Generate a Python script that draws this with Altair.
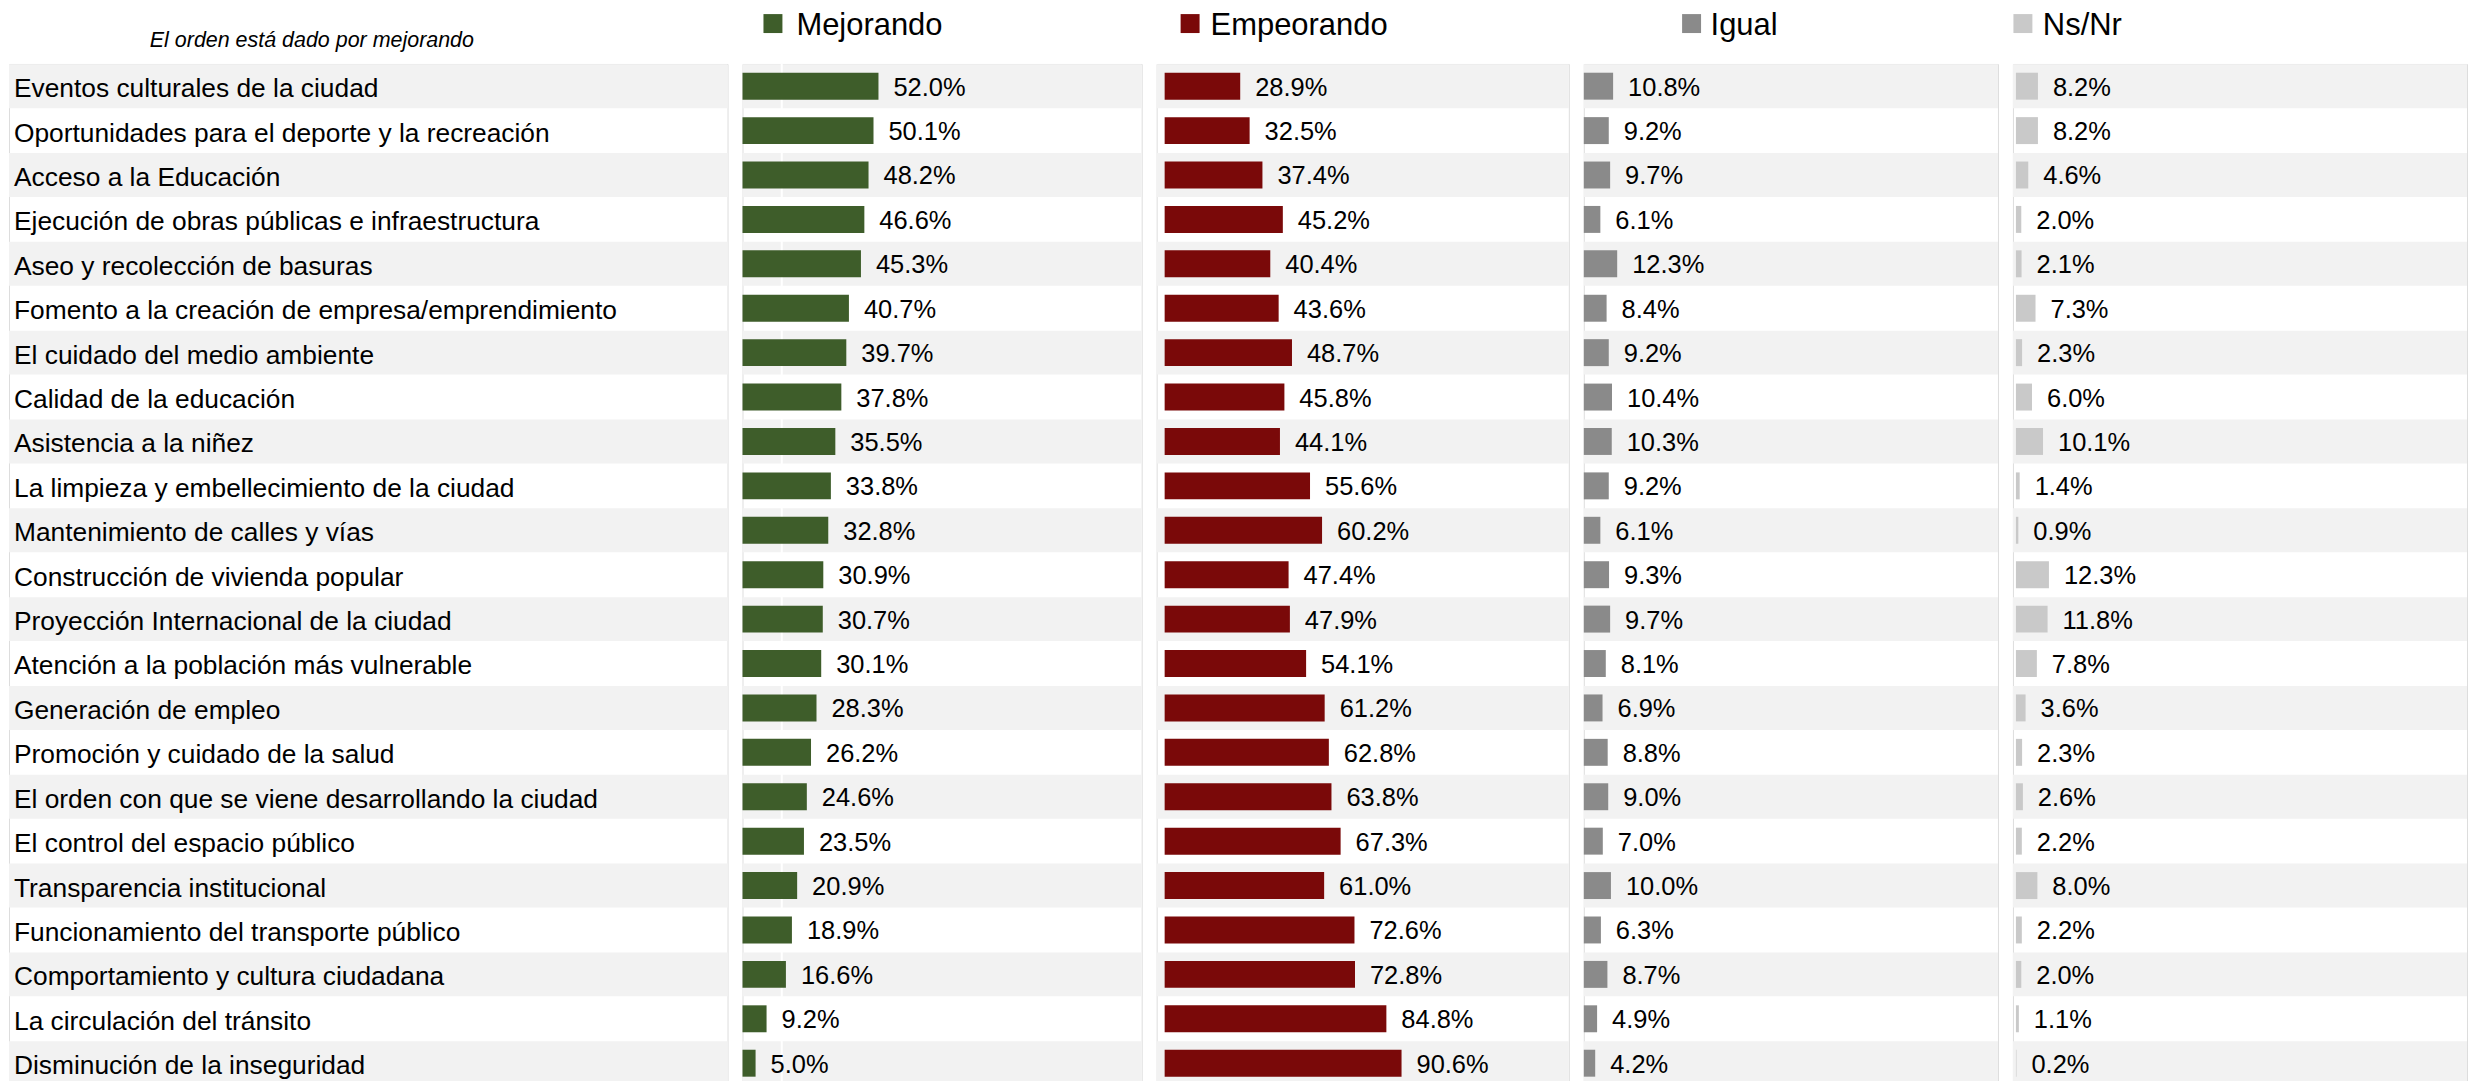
import altair as alt
import pandas as pd

categorias = [
    "Eventos culturales de la ciudad",
    "Oportunidades para el deporte y la recreación",
    "Acceso a la Educación",
    "Ejecución de obras públicas e infraestructura",
    "Aseo y recolección de basuras",
    "Fomento a la creación de empresa/emprendimiento",
    "El cuidado del medio ambiente",
    "Calidad de la educación",
    "Asistencia a la niñez",
    "La limpieza y embellecimiento de la ciudad",
    "Mantenimiento de calles y vías",
    "Construcción de vivienda popular",
    "Proyección Internacional de la ciudad",
    "Atención a la población más vulnerable",
    "Generación de empleo",
    "Promoción y cuidado de la salud",
    "El orden con que se viene desarrollando la ciudad",
    "El control del espacio público",
    "Transparencia institucional",
    "Funcionamiento del transporte público",
    "Comportamiento y cultura ciudadana",
    "La circulación del tránsito",
    "Disminución de la inseguridad",
]
mejorando = [52.0, 50.1, 48.2, 46.6, 45.3, 40.7, 39.7, 37.8, 35.5, 33.8, 32.8, 30.9,
             30.7, 30.1, 28.3, 26.2, 24.6, 23.5, 20.9, 18.9, 16.6, 9.2, 5.0]
empeorando = [28.9, 32.5, 37.4, 45.2, 40.4, 43.6, 48.7, 45.8, 44.1, 55.6, 60.2, 47.4,
              47.9, 54.1, 61.2, 62.8, 63.8, 67.3, 61.0, 72.6, 72.8, 84.8, 90.6]
igual = [10.8, 9.2, 9.7, 6.1, 12.3, 8.4, 9.2, 10.4, 10.3, 9.2, 6.1, 9.3,
         9.7, 8.1, 6.9, 8.8, 9.0, 7.0, 10.0, 6.3, 8.7, 4.9, 4.2]
nsnr = [8.2, 8.2, 4.6, 2.0, 2.1, 7.3, 2.3, 6.0, 10.1, 1.4, 0.9, 12.3,
        11.8, 7.8, 3.6, 2.3, 2.6, 2.2, 8.0, 2.2, 2.0, 1.1, 0.2]

series = ["Mejorando", "Empeorando", "Igual", "Ns/Nr"]
claves = ["mej", "emp", "igu", "ns"]
colores = ["#3e5d2a", "#7a0909", "#8a8a8a", "#c9c9c9"]
nota = "El orden está dado por mejorando"

FONT = "Liberation Sans"
ROW = 44.5
H = ROW * len(categorias)

df = pd.DataFrame({
    "categoria": categorias,
    "mej": mejorando,
    "emp": empeorando,
    "igu": igual,
    "ns": nsnr,
})
df["franja"] = [i % 2 == 0 for i in range(len(df))]

y_enc = alt.Y("categoria:N", sort=categorias,
              scale=alt.Scale(paddingInner=0, paddingOuter=0), axis=None)


def fondo(w):
    return (alt.Chart(df).transform_filter("datum.franja")
            .mark_bar(size=44, color="#f2f2f2")
            .encode(y=y_enc, x=alt.value(0), x2=alt.value(w)))


def panel(idx, w, rng, dom, sq_x, txt_x, grid=None):
    clave = claves[idx]
    color = colores[idx]
    xs = alt.X(f"{clave}:Q", scale=alt.Scale(domain=dom, range=rng, nice=False, zero=True), axis=None)
    capas = [fondo(w)]
    if grid is not None:
        capas.append(alt.Chart(pd.DataFrame({"g": [grid]})).mark_rule(color="white", strokeWidth=2)
                     .encode(x=alt.X("g:Q", scale=alt.Scale(domain=dom, range=rng, nice=False), axis=None),
                             y=alt.value(0), y2=alt.value(H)))
    barras = alt.Chart(df).mark_bar(size=27, color=color).encode(y=y_enc, x=xs)
    textos = (alt.Chart(df)
              .transform_calculate(lbl=f"format(datum.{clave}, '.1f') + '%'")
              .mark_text(align="left", baseline="middle", dx=15, dy=1.5, fontSize=25.5,
                         font=FONT, color="#000000")
              .encode(y=y_enc, x=xs, text="lbl:N"))
    hdr = pd.DataFrame({"serie": [series[idx]]})
    cuadro = (alt.Chart(hdr).mark_square(size=361, color=color, opacity=1, filled=True)
              .encode(x=alt.value(sq_x), y=alt.value(-40.5)))
    titulo = (alt.Chart(hdr).mark_text(align="left", baseline="alphabetic", fontSize=31,
                                       font=FONT, color="#000000")
              .encode(x=alt.value(txt_x), y=alt.value(-29), text="serie:N"))
    capas += [barras, textos, cuadro, titulo]
    return alt.layer(*capas).properties(width=w, height=H)


etiquetas = alt.layer(
    fondo(720),
    alt.Chart(df).mark_text(align="left", baseline="middle", dy=3, fontSize=26.4,
                            font=FONT, color="#000000")
    .encode(y=y_enc, x=alt.value(5), text="categoria:N"),
    alt.Chart(pd.DataFrame({"nota": [nota]})).mark_text(
        align="center", baseline="alphabetic", fontSize=21.5, fontStyle="italic",
        font=FONT, color="#000000")
    .encode(x=alt.value(303.5), y=alt.value(-17), text="nota:N"),
).properties(width=720, height=H)

p_mej = panel(0, 400, [0, 400], [0, 400 / 2.62], 30.5, 54, grid=15)
p_emp = panel(1, 413, [8, 413], [0, 405 / 2.62], 33.5, 54)
p_igu = panel(2, 415, [0, 415], [0, 415 / 2.72], 108, 127)
p_ns = panel(3, 455, [3, 455], [0, 452 / 2.69], 10, 30)

chart = (alt.hconcat(etiquetas, p_mej, p_emp, p_igu, p_ns, spacing=15, bounds="flush")
         .resolve_scale(x="independent", y="shared")
         .properties(padding=0)
         .configure_view(stroke=None)
         .configure(font=FONT))

chart.save("out.html", embed_options={"renderer": "svg", "actions": False})
